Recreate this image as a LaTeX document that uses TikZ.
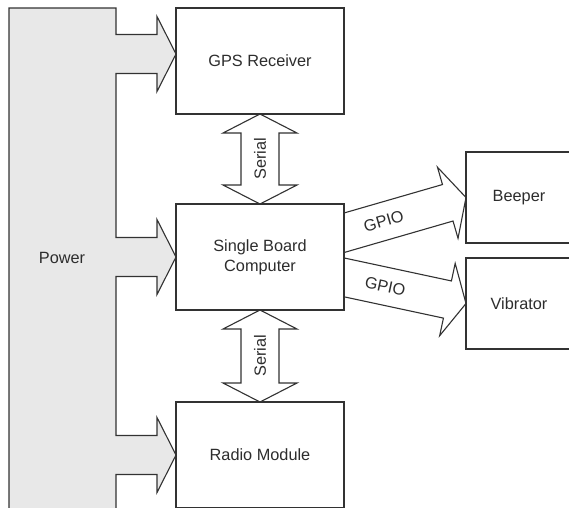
\documentclass[tikz,border=0pt]{standalone}
\usepackage{fontspec}
\setmainfont{Liberation Sans}
\usetikzlibrary{positioning, calc, backgrounds}
\definecolor{edge}{RGB}{50,50,50}
\definecolor{ink}{RGB}{45,45,45}
\definecolor{powerbg}{RGB}{232,232,232}
\tikzset{
  unit/.style={rectangle, draw=edge, line width=1.2pt, fill=white, outer sep=0pt,
               minimum width=168pt, minimum height=106pt, align=center,
               text=ink, font=\fontsize{16.3}{20}\selectfont},
  small unit/.style={unit, minimum width=106pt, minimum height=91pt},
  pipe/.style={draw=edge, line width=1.1pt, fill=white, line join=miter},
  feed/.style={pipe, fill=powerbg},
  tag/.style={text=ink, font=\fontsize{16.3}{20}\selectfont, inner sep=1pt},
}
% one-headed block arrow from #1 to #2
\newcommand{\busarrow}[2]{%
  \coordinate (bh) at ($(#2)!19pt!(#1)$);
  \filldraw[pipe] ($(#1)!19pt!90:(#2)$) -- ($(bh)!19pt!-90:(#1)$)
    -- ($(bh)!37pt!-90:(#1)$) -- (#2) -- ($(bh)!37pt!90:(#1)$)
    -- ($(bh)!19pt!90:(#1)$) -- ($(#1)!19pt!-90:(#2)$) -- cycle;}
% two-headed block arrow between #1 and #2
\newcommand{\duplexarrow}[2]{%
  \coordinate (ha) at ($(#1)!19pt!(#2)$);
  \coordinate (hb) at ($(#2)!19pt!(#1)$);
  \filldraw[pipe] (#1) -- ($(ha)!37pt!90:(#2)$) -- ($(ha)!19pt!90:(#2)$)
    -- ($(hb)!19pt!-90:(#1)$) -- ($(hb)!37pt!-90:(#1)$) -- (#2)
    -- ($(hb)!37pt!90:(#1)$) -- ($(hb)!19pt!90:(#1)$)
    -- ($(ha)!19pt!-90:(#2)$) -- ($(ha)!37pt!-90:(#2)$) -- cycle;}

\begin{document}
\begin{tikzpicture}[x=1pt, y=-1pt, node distance=90pt]
  \useasboundingbox (0,0) rectangle (569,507);

  \node[unit] (gps) at (260,61) {GPS Receiver};
  \node[unit, below=of gps] (sbc) {Single Board\\Computer};
  \node[unit, below=92pt of sbc] (radio) {Radio Module};
  \node[small unit] (beeper) at (519,197.5) {Beeper};
  \node[small unit, below=15pt of beeper] (vibrator) {Vibrator};
  \node[tag] (power) at (62,258) {Power};

  \begin{scope}[on background layer]
    % power rail with its three feeds
    \coordinate (to-gps) at ($(gps.west)+(0,-7)$);
    \filldraw[feed] (9,520) |- (116,8)
      foreach \dest in {to-gps, sbc.west, radio.west} {
        -- ($(\dest)+(-60,-19.5)$) -- ($(\dest)+(-19,-19.5)$) -- ($(\dest)+(-19,-37.5)$)
        -- (\dest) -- ($(\dest)+(-19,37.5)$) -- ($(\dest)+(-19,19.5)$) -- ($(\dest)+(-60,19.5)$)}
      -- (116,520) -- cycle;

    \duplexarrow{gps.south}{sbc.north}
    \duplexarrow{sbc.south}{radio.north}

    \coordinate (beep-out) at ($(sbc.east)+(-25,-17)$);
    \coordinate (vib-out) at ($(sbc.east)+(-25,15)$);
    \busarrow{beep-out}{beeper.west}
    \busarrow{vib-out}{vibrator.west}
  \end{scope}

  \path (gps.south) -- node[tag, rotate=90] (serial-a) {Serial} (sbc.north);
  \path (sbc.south) -- node[tag, rotate=90] (serial-b) {Serial} (radio.north);
  \path (beep-out) -- node[tag, sloped, pos=0.44] (gpio-a) {GPIO} (beeper.west);
  \path (vib-out) -- node[tag, sloped, pos=0.45] (gpio-b) {GPIO} (vibrator.west);
\end{tikzpicture}
\end{document}
